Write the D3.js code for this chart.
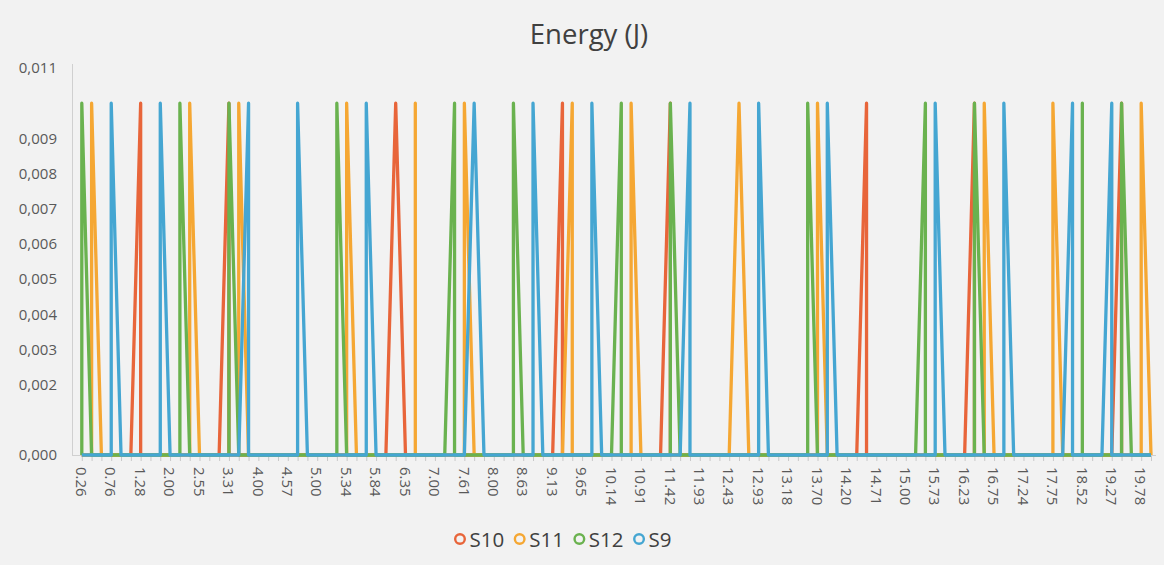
<!DOCTYPE html>
<html>
<head>
<meta charset="utf-8">
<script src="https://cdn.jsdelivr.net/npm/d3@7/dist/d3.min.js"></script>
<style>
  html, body { margin: 0; padding: 0; background: #f2f2f2; }
  svg { display: block; }
</style>
</head>
<body>
<svg id="chart" width="1164" height="565"></svg>
<script>
// ---------------- data ----------------
const chartTitle = "Energy (J)";
const categoryCount = 110;               // number of time categories on the x axis
const tickLabels = ["0.26","0.76","1.28","2.00","2.55","3.31","4.00","4.57","5.00","5.34",
  "5.84","6.35","7.00","7.61","8.00","8.63","9.13","9.65","10.14","10.91","11.42","11.93",
  "12.43","12.93","13.18","13.70","14.20","14.71","15.00","15.73","16.23","16.75","17.24",
  "17.75","18.52","19.27","19.78"];       // shown on every 3rd category
const labelEvery = 3;
const yTicks = [0, 0.002, 0.003, 0.004, 0.005, 0.006, 0.007, 0.008, 0.009, 0.011];
const yMax = 0.011;

const seriesNames = ["S10", "S11", "S12", "S9"];
const seriesColors = ["#e8653a", "#f5a733", "#6ab24f", "#45a6d2"];

// [category index, energy] points
const s10 = [[0,0],[5,0],[6,0.01],[6,0],[14,0],[15,0.01],[15,0],[31,0],[32,0.01],[33,0],
  [48,0],[49,0.01],[49,0],[59,0],[60,0.01],[60,0],[79,0],[80,0.01],[80,0],[90,0],[91,0.01],[91,0],
  [105,0],[106,0.01],[106,0],[109,0]];
const s11 = [[0,0],[1,0],[1,0.01],[2,0],[11,0],[11,0.01],[12,0],[16,0],[16,0.01],[17,0],
  [27,0],[27,0.01],[28,0],[34,0],[34,0.01],[34,0],[39,0],[39,0.01],[40,0],[49,0],[50,0.01],[50,0],
  [56,0],[56,0.01],[57,0],[66,0],[67,0.01],[68,0],[75,0],[75,0.01],[76,0],[92,0],[92,0.01],[93,0],
  [99,0],[99,0.01],[100,0],[108,0],[108,0.01],[109,0]];
const s12 = [[0,0],[0,0.01],[1,0],[10,0],[10,0.01],[11,0],[15,0],[15,0.01],[16,0],[26,0],[26,0.01],[27,0],
  [37,0],[38,0.01],[38,0],[44,0],[44,0.01],[45,0],[54,0],[55,0.01],[55,0],[60,0],[60,0.01],[61,0],
  [74,0],[74,0.01],[75,0],[85,0],[86,0.01],[86,0],[91,0],[91,0.01],[92,0],[102,0],[102,0.01],[102,0],
  [106,0],[106,0.01],[107,0],[109,0]];
const s9 = [[0,0],[3,0],[3,0.01],[4,0],[8,0],[8,0.01],[9,0],[16,0],[17,0.01],[17,0],[22,0],[22,0.01],[23,0],
  [29,0],[29,0.01],[30,0],[39,0],[40,0.01],[41,0],[46,0],[46,0.01],[47,0],[52,0],[52,0.01],[53,0],
  [61,0],[62,0.01],[62,0],[69,0],[69,0.01],[70,0],[76,0],[76,0.01],[77,0],[87,0],[87,0.01],[88,0],
  [94,0],[94,0.01],[95,0],[100,0],[101,0.01],[101,0],[104,0],[105,0.01],[105,0],[109,0]];
const seriesData = [s10, s11, s12, s9];

// ---------------- layout ----------------
const W = 1164, H = 565;
const plot = { left: 72, right: 1156, top: 62, bottom: 455 };
const font = "'Open Sans', 'Noto Sans', sans-serif";

const svg = d3.select("#chart");
svg.append("rect").attr("width", W).attr("height", H).attr("fill", "#f2f2f2");

const cats = d3.range(categoryCount);
const x = d3.scalePoint().domain(cats).range([81.8, 1151]);
const y = d3.scaleLinear().domain([0, yMax]).range([plot.bottom, 68]);

// title
svg.append("text")
  .attr("x", 589).attr("y", 33)
  .attr("text-anchor", "middle").attr("dominant-baseline", "central")
  .style("font-family", font).style("font-size", "27.5px").style("fill", "#404040")
  .text(chartTitle);

// y axis
const yAxis = svg.append("g").attr("transform", `translate(${plot.left},0)`)
  .call(d3.axisLeft(y).tickValues(yTicks).tickSize(0).tickPadding(15)
    .tickFormat(d => d3.format(".3f")(d).replace(".", ",")));
yAxis.select(".domain").remove();
yAxis.selectAll("text").style("font-family", font).style("font-size", "15px").style("fill", "#595959");
svg.append("line").attr("x1", plot.left + 0.5).attr("x2", plot.left + 0.5)
  .attr("y1", 64).attr("y2", plot.bottom).attr("stroke", "#d0d0d0").attr("stroke-width", 1);

// x axis
const xAxis = svg.append("g").attr("transform", `translate(0,${plot.bottom})`)
  .call(d3.axisBottom(x).tickValues(cats).tickSize(6).tickSizeOuter(0)
    .tickFormat(i => i % labelEvery === 0 ? tickLabels[i / labelEvery] : ""));
xAxis.select(".domain").remove();
xAxis.selectAll(".tick line").attr("stroke", "#c8c8c8");
xAxis.selectAll(".tick text")
  .attr("transform", "rotate(90)")
  .attr("x", 12).attr("y", 1).attr("dy", "0.35em")
  .attr("text-anchor", "start")
  .style("font-family", font).style("font-size", "15px").style("fill", "#595959");
svg.append("line").attr("x1", plot.left).attr("x2", plot.right)
  .attr("y1", plot.bottom + 0.5).attr("y2", plot.bottom + 0.5)
  .attr("stroke", "#d0d0d0").attr("stroke-width", 1);

// series lines
const line = d3.line().x(d => x(d[0])).y(d => y(d[1]));
svg.append("g").selectAll("path").data(seriesData).join("path")
  .attr("d", line)
  .attr("fill", "none")
  .attr("stroke", (d, i) => seriesColors[i])
  .attr("stroke-width", 3.3)
  .attr("stroke-linejoin", "round")
  .attr("stroke-linecap", "butt");

// legend
const legend = svg.append("g");
let cursor = 0;
seriesNames.forEach((name, i) => {
  const g = legend.append("g").attr("transform", `translate(${cursor},0)`);
  g.append("circle").attr("cx", 5.5).attr("cy", 0).attr("r", 4.8)
    .attr("fill", "#f2f2f2").attr("stroke", seriesColors[i]).attr("stroke-width", 2.4);
  const t = g.append("text").attr("x", 15).attr("y", 0).attr("dominant-baseline", "central")
    .style("font-family", font).style("font-size", "20.5px").style("fill", "#404040")
    .text(name);
  cursor += 15 + t.node().getComputedTextLength() + 10;
});
const legendWidth = cursor - 10;
legend.attr("transform", `translate(${563 - legendWidth / 2},539)`);
</script>
</body>
</html>
